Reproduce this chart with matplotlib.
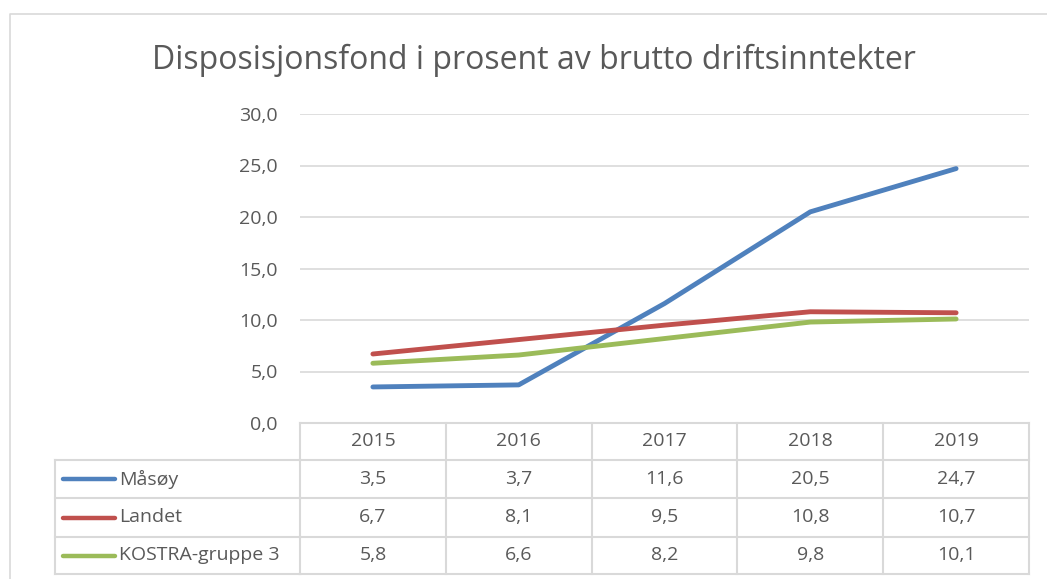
import matplotlib.pyplot as plt
from matplotlib.transforms import blended_transform_factory

plt.rcParams['font.family'] = ['Open Sans', 'DejaVu Sans']

# Data
years = ['2015', '2016', '2017', '2018', '2019']
series_names = ['Måsøy', 'Landet', 'KOSTRA-gruppe 3']
masoy = [3.5, 3.7, 11.6, 20.5, 24.7]
landet = [6.7, 8.1, 9.5, 10.8, 10.7]
kostra = [5.8, 6.6, 8.2, 9.8, 10.1]
colors = ['#4F81BD', '#C0504D', '#9BBB59']
yticks = [0, 5, 10, 15, 20, 25, 30]

W, H = 1047, 579
grid_col = '#d9d9d9'
text_col = '#595959'
fs = 14

fig = plt.figure(figsize=(W / 100, H / 100), dpi=100)

# pixel canvas for frame and table
canvas = fig.add_axes([0, 0, 1, 1], zorder=0)
canvas.set_xlim(0, W)
canvas.set_ylim(H, 0)
canvas.axis('off')

# outer chart border
canvas.plot([10, 10, W], [H, 14, 14], color=grid_col, lw=1.2)

# title
fig.text(534 / W, 1 - 60 / H, 'Disposisjonsfond i prosent av brutto driftsinntekter',
         fontsize=23, color=text_col, ha='center', va='center')

# plot area
ax = fig.add_axes([300 / W, (H - 423) / H, 729 / W, 309 / H], zorder=1)
ax.patch.set_alpha(0)
x = list(range(len(years)))
for vals, c in zip([masoy, landet, kostra], colors):
    ax.plot(x, vals, color=c, lw=3.5, solid_capstyle='round', solid_joinstyle='round')

ax.set_xlim(-0.5, len(years) - 0.5)
ax.set_ylim(0, 30)
ax.set_yticks(yticks)
ax.set_yticklabels([f'{v:.1f}'.replace('.', ',') for v in yticks], fontsize=fs, color=text_col)
ax.set_xticks([])
ax.tick_params(axis='y', length=0, pad=16)
ax.grid(axis='y', color=grid_col, lw=1.2)
ax.set_axisbelow(True)
for s in ['top', 'right', 'left', 'bottom']:
    ax.spines[s].set_visible(False)

# data table: x from data coords, y from pixel canvas
tr = blended_transform_factory(ax.transData, canvas.transData)
row_edges = [423, 460, 498, 537, 574]
left = -0.5
right = len(years) - 0.5
kw = dict(color=grid_col, lw=1.5, clip_on=False)

ax.plot([left, right], [row_edges[0]] * 2, transform=tr, **kw)
for yy in row_edges[1:]:
    canvas.plot([55, 300], [yy, yy], **kw)
    ax.plot([left, right], [yy, yy], transform=tr, **kw)
for i in range(len(years) + 1):
    ax.plot([i - 0.5, i - 0.5], [row_edges[0], row_edges[-1]], transform=tr, **kw)
canvas.plot([55, 55], [row_edges[1], row_edges[-1]], **kw)

# header years
for i, yr in enumerate(years):
    ax.text(i, (row_edges[0] + row_edges[1]) / 2, yr, transform=tr, ha='center', va='center',
            fontsize=fs, color=text_col)

# series rows
for r, (name, vals, c) in enumerate(zip(series_names, [masoy, landet, kostra], colors)):
    yc = (row_edges[r + 1] + row_edges[r + 2]) / 2
    canvas.plot([63, 115], [yc, yc], color=c, lw=3.2, solid_capstyle='round')
    canvas.text(119, yc, name, ha='left', va='center', fontsize=fs, color=text_col)
    for i, v in enumerate(vals):
        ax.text(i, yc, f'{v:.1f}'.replace('.', ','), transform=tr, ha='center', va='center',
                fontsize=fs, color=text_col)

fig.savefig('out.png', dpi=100)
